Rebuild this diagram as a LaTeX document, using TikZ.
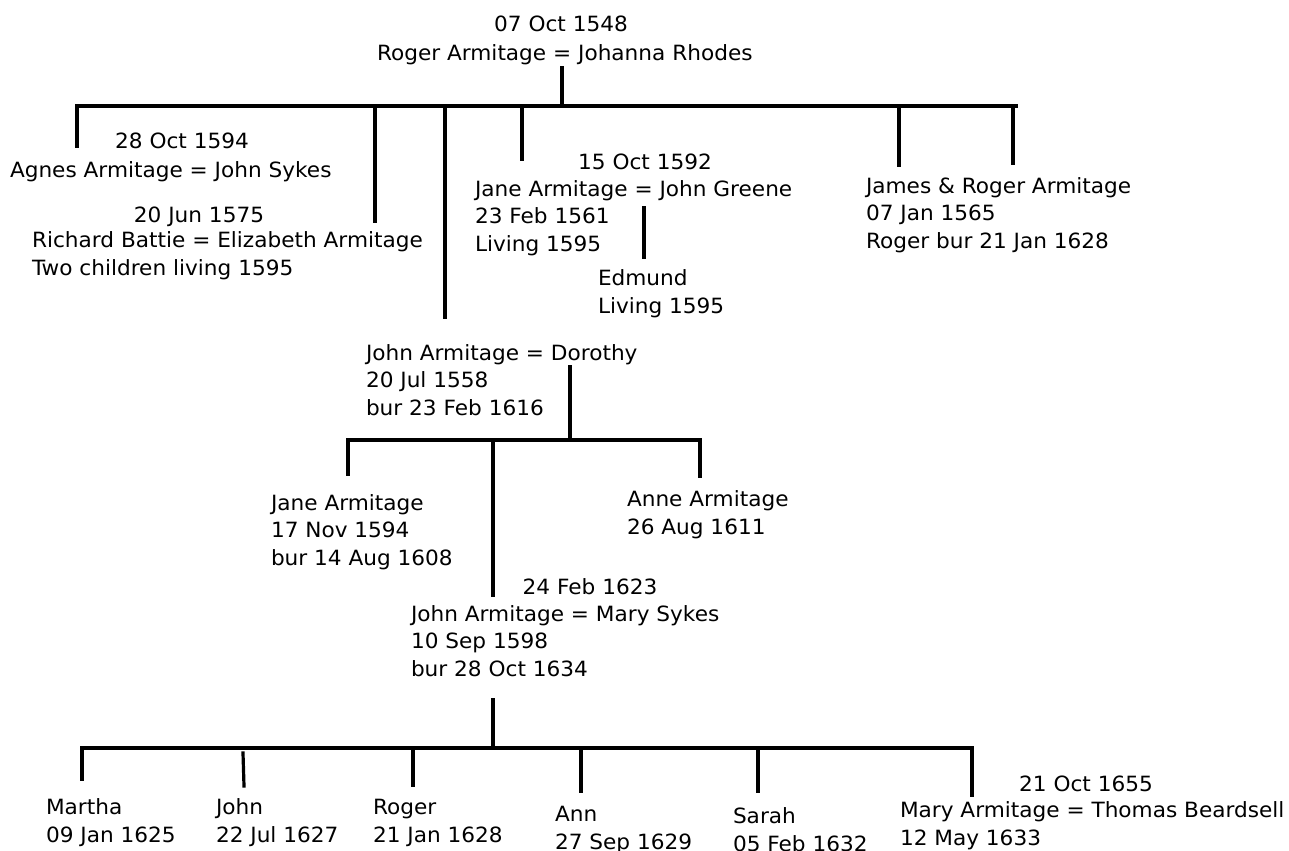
\documentclass[tikz,border=0pt]{standalone}
\usepackage{fontspec}
\setmainfont{DejaVu Sans}[FakeStretch=1.03]
\begin{document}
\begin{tikzpicture}[x=0.75pt,y=-0.75pt,
  txt/.style={inner sep=0pt,outer sep=0pt,align=left,anchor=base west,
    font=\fontsize{15.75pt}{20.5pt}\selectfont},
  dat/.style={inner sep=0pt,outer sep=0pt,anchor=base,
    font=\fontsize{15.75pt}{20.5pt}\selectfont},
  ln/.style={line width=2.4pt,line cap=rect}]
\useasboundingbox (0,0) rectangle (1289,850);
% generation 1
\node[dat] (d0) at (561,31.5) {07 Oct 1548};
\node[txt] (p0) at (377,60) {Roger Armitage = Johanna Rhodes};
% children row 1
\node[dat] (d1) at (182,148) {28 Oct 1594};
\node[txt] (agnes) at (10,177) {Agnes Armitage = John Sykes};
\node[dat] (d2) at (199,222) {20 Jun 1575};
\node[txt] (eliz) at (32,275) {Richard Battie = Elizabeth Armitage\\Two children living 1595};
\node[dat] (d3) at (645,169) {15 Oct 1592};
\node[txt] (jane1) at (475,251) {Jane Armitage = John Greene\\23 Feb 1561\\Living 1595};
\node[txt] (edmund) at (598,313) {Edmund\\Living 1595};
\node[txt] (james) at (866,248) {James \& Roger Armitage\\07 Jan 1565\\Roger bur 21 Jan 1628};
\node[txt] (john1) at (366,415) {John Armitage = Dorothy\\20 Jul 1558\\bur 23 Feb 1616};
% generation 3
\node[txt] (jane2) at (271,565) {Jane Armitage\\17 Nov 1594\\bur 14 Aug 1608};
\node[txt] (anne) at (627,534) {Anne Armitage\\26 Aug 1611};
\node[dat] (d4) at (590,594) {24 Feb 1623};
\node[txt] (john2) at (411,676) {John Armitage = Mary Sykes\\10 Sep 1598\\bur 28 Oct 1634};
% generation 4
\node[txt] (martha) at (46,842) {Martha\\09 Jan 1625};
\node[txt] (john3) at (216,842) {John\\22 Jul 1627};
\node[txt] (roger) at (373,842) {Roger\\21 Jan 1628};
\node[txt] (ann) at (555,849) {Ann\\27 Sep 1629};
\node[txt] (sarah) at (733,851) {Sarah\\05 Feb 1632};
\node[dat] (d5) at (1086,791) {21 Oct 1655};
\node[txt] (mary) at (900,845) {Mary Armitage = Thomas Beardsell\\12 May 1633};
% coordinates
\coordinate (a0) at (562,68);
\coordinate (a1) at (562,106);
\coordinate (bL) at (77,106);
\coordinate (bR) at (1016,106);
\coordinate (c1) at (77,146);
\coordinate (c2t) at (375,106); \coordinate (c2) at (375,221);
\coordinate (c3t) at (445,106); \coordinate (c3) at (445,317);
\coordinate (c4t) at (522,106); \coordinate (c4) at (522,159);
\coordinate (c5t) at (899,106); \coordinate (c5) at (899,165);
\coordinate (c6t) at (1013,106); \coordinate (c6) at (1013,163);
\coordinate (e0) at (644,208); \coordinate (e1) at (644,257);
\coordinate (f0) at (570,367); \coordinate (f1) at (570,440);
\coordinate (fL) at (348,440); \coordinate (fR) at (700,440);
\coordinate (g1) at (348,474);
\coordinate (g2t) at (493,440); \coordinate (g2) at (493,595);
\coordinate (g3) at (700,476);
\coordinate (h0) at (493,700); \coordinate (h1) at (493,748);
\coordinate (hL) at (82,748); \coordinate (hR) at (972,748);
\coordinate (k1) at (82,779);
\coordinate (k2t) at (243,753); \coordinate (k2) at (244,786);
\coordinate (k3t) at (413,748); \coordinate (k3) at (413,785);
\coordinate (k4t) at (581,748); \coordinate (k4) at (581,791);
\coordinate (k5t) at (758,748); \coordinate (k5) at (758,791);
\coordinate (k6) at (972,795);
% connectors
\draw[ln] (a0) -- (a1);
\draw[ln] (c1) -- (bL) -- (bR);
\draw[ln] (c2t) -- (c2);
\draw[ln] (c3t) -- (c3);
\draw[ln] (c4t) -- (c4);
\draw[ln] (c5t) -- (c5);
\draw[ln] (c6t) -- (c6);
\draw[ln] (e0) -- (e1);
\draw[ln] (f0) -- (f1);
\draw[ln] (g1) -- (fL) -- (fR) -- (g3);
\draw[ln] (g2t) -- (g2);
\draw[ln] (h0) -- (h1);
\draw[ln] (k1) -- (hL) -- (hR) -- (k6);
\draw[ln] (k2t) -- (k2);
\draw[ln] (k3t) -- (k3);
\draw[ln] (k4t) -- (k4);
\draw[ln] (k5t) -- (k5);
\end{tikzpicture}
\end{document}
